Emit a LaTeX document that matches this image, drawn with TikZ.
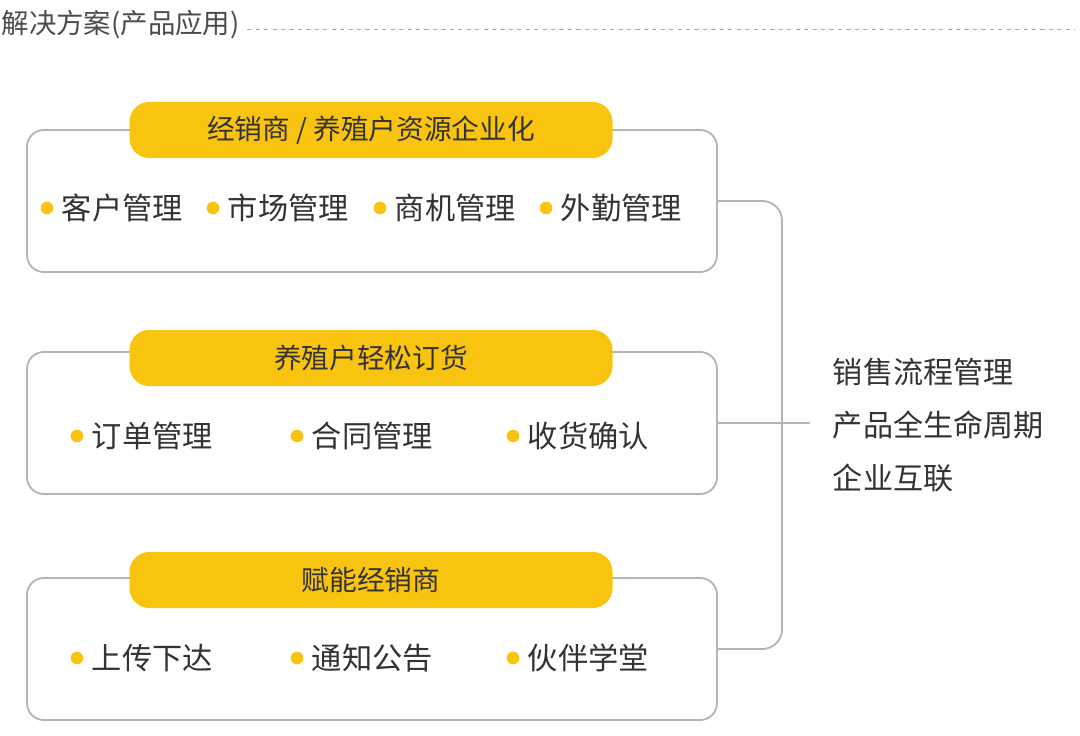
\documentclass[tikz,border=0pt]{standalone}
\usepackage{fontspec}
\setmainfont{Noto Sans CJK SC}
\usetikzlibrary{positioning}
\definecolor{sunyellow}{HTML}{F9C40F}
\definecolor{framegray}{HTML}{B4B4B4}
\definecolor{textgray}{HTML}{333333}

\begin{document}
\begin{tikzpicture}[x=0.025cm, y=-0.025cm, text=textgray]
\tikzstyle{panel} = [draw=framegray, line width=1.3pt, rounded corners=12pt, minimum width=690*0.025cm, minimum height=142*0.025cm]
\tikzstyle{tag} = [fill=sunyellow, rounded corners=14pt, minimum width=483*0.025cm, minimum height=56*0.025cm, font=\fontsize{19.7}{22}\selectfont]
\tikzstyle{item} = [font=\fontsize{21.5}{25}\selectfont, anchor=west]
\tikzstyle{dot} = [circle, fill=sunyellow, inner sep=0pt, minimum size=9pt]
\tikzstyle{link} = [draw=framegray, line width=1.3pt]

\useasboundingbox (0,0) rectangle (1080,736);

% header
\node (title) [anchor=west, inner sep=1pt, font=\fontsize{19.5}{22}\selectfont, text=black!70] at (0,25) {解决方案(产品应用)};
\draw[dashed, gray!70] (title.east) ++(6,4) -- (1075,29);

% panels
\node (panelA) [panel] at (372,201) {};
\node (panelB) [panel] at (372,423) {};
\node (panelC) [panel] at (372,649) {};
\node (tagA) [tag] at (371,130) {经销商 / 养殖户资源企业化};
\node (tagB) [tag] at (371,358) {养殖户轻松订货};
\node (tagC) [tag] at (371,580) {赋能经销商};

% items
\foreach \x/\t in {47/客户管理, 213/市场管理, 380/商机管理, 546/外勤管理}{
  \node[dot] at (\x,208) {};
  \node[item] at (\x+10,208) {\t};
}
\foreach \x/\t in {77/订单管理, 297/合同管理, 513/收货确认}{
  \node[dot] at (\x,436) {};
  \node[item] at (\x+10,436) {\t};
}
\foreach \x/\t in {77/上传下达, 297/通知公告, 513/伙伴学堂}{
  \node[dot] at (\x,658) {};
  \node[item] at (\x+10,658) {\t};
}

% bracket
\coordinate (joint) at (810,423);
\draw[link, rounded corners=14pt] (panelA.east) -- (782,201) -- (782,649) -- (panelC.east);
\draw[link] (panelB.east) -- (joint);
\node (summary) [anchor=west, align=left, font=\fontsize{21.4}{37.5}\selectfont] at (828,425) {销售流程管理\\产品全生命周期\\企业互联};
\end{tikzpicture}
\end{document}
